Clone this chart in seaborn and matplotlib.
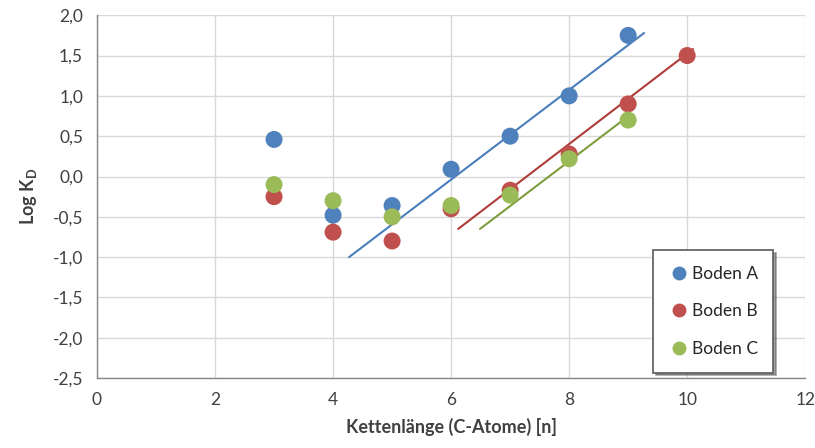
import numpy as np
import pandas as pd
import matplotlib
matplotlib.use("Agg")
import matplotlib.pyplot as plt
import seaborn as sns

# data
x_a = [3, 4, 5, 6, 7, 8, 9]
y_a = [0.46, -0.48, -0.36, 0.09, 0.50, 1.00, 1.75]
x_b = [3, 4, 5, 6, 7, 8, 9, 10]
y_b = [-0.25, -0.69, -0.80, -0.40, -0.17, 0.28, 0.90, 1.50]
x_c = [3, 4, 5, 6, 7, 8, 9]
y_c = [-0.10, -0.30, -0.50, -0.36, -0.23, 0.22, 0.70]

# trend lines (start/end)
trend_a_x = [4.27, 9.27]
trend_a_y = [-1.00, 1.78]
trend_b_x = [6.12, 10.10]
trend_b_y = [-0.65, 1.58]
trend_c_x = [6.49, 8.95]
trend_c_y = [-0.65, 0.72]

labels = ["Boden A", "Boden B", "Boden C"]
colors = ["#4F81BD", "#C0504D", "#9BBB59"]
line_colors = ["#4A7EBB", "#B03C39", "#7E9E3E"]

df = pd.concat([
    pd.DataFrame({"x": x_a, "y": y_a, "Boden": labels[0]}),
    pd.DataFrame({"x": x_b, "y": y_b, "Boden": labels[1]}),
    pd.DataFrame({"x": x_c, "y": y_c, "Boden": labels[2]}),
])

sns.set_style("white")
plt.rcParams["font.family"] = ["Lato", "DejaVu Sans"]
plt.rcParams["mathtext.fontset"] = "custom"
plt.rcParams["mathtext.bf"] = "Lato:bold"
plt.rcParams["mathtext.rm"] = "Lato"

fig = plt.figure(figsize=(8.15, 4.48), dpi=100)
ax = fig.add_axes([0.119, 0.156, 0.869, 0.81])

for tx, ty, c in zip([trend_a_x, trend_b_x, trend_c_x],
                     [trend_a_y, trend_b_y, trend_c_y], line_colors):
    sns.lineplot(x=tx, y=ty, color=c, linewidth=1.5, ax=ax, zorder=2)

sns.scatterplot(data=df, x="x", y="y", hue="Boden", palette=colors,
                s=150, edgecolor="none", ax=ax, zorder=3, legend=False)

ax.set_xlim(0, 12)
ax.set_ylim(-2.5, 2.0)
ax.set_xticks(range(0, 13, 2))
yt = np.arange(-2.5, 2.01, 0.5)
ax.set_yticks(yt)
ax.set_yticklabels([f"{v:.1f}".replace(".", ",") for v in yt])
ax.grid(True, color="#D9D9D9", linewidth=1)
ax.set_axisbelow(True)
for s in ["top", "right"]:
    ax.spines[s].set_visible(False)
for s in ["left", "bottom"]:
    ax.spines[s].set_color("#868686")
    ax.spines[s].set_linewidth(1)
ax.tick_params(axis="both", direction="out", length=5, color="#868686",
               labelsize=12.5, labelcolor="#404040", pad=5)

ax.set_xlabel("Kettenlänge (C-Atome) [n]", fontsize=13, fontweight="bold",
              color="#404040", labelpad=7)
ax.set_ylabel(r"Log K$_{\mathbf{D}}$", fontsize=13, fontweight="bold",
              color="#404040", labelpad=10)

handles = [plt.Line2D([], [], marker="o", linestyle="none", markersize=10,
                      markerfacecolor=c, markeredgecolor="none") for c in colors]
leg = ax.legend(handles, labels, loc="lower right",
                bbox_to_anchor=(0.955, 0.015), frameon=True, shadow=True,
                fancybox=False, fontsize=12.5, labelspacing=1.25,
                handletextpad=0.1, handlelength=1.2, borderpad=0.9,
                borderaxespad=0)
leg.get_frame().set_edgecolor("#595959")
leg.get_frame().set_linewidth(1.2)
for t in leg.get_texts():
    t.set_color("#262626")

fig.savefig("out.png", dpi=100)
